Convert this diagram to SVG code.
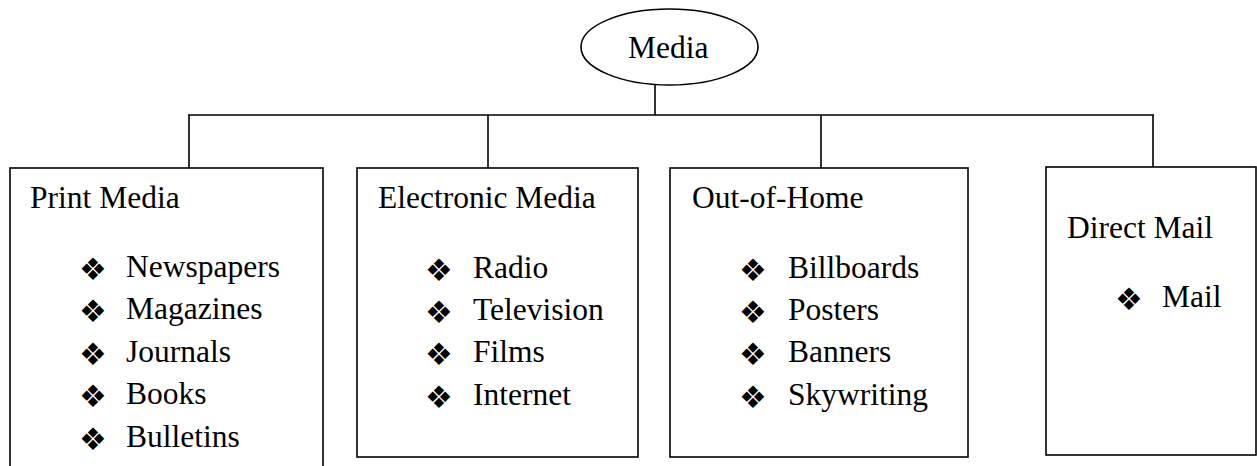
<svg xmlns="http://www.w3.org/2000/svg" width="1257" height="466" viewBox="0 0 1257 466">
<style>
.ln{stroke:#000;stroke-width:1.6;fill:none}
.box{stroke:#000;stroke-width:1.6;fill:#fff}
.t{font-family:"Liberation Serif","Times New Roman",serif;font-size:31.5px;fill:#000}
.b{font-family:"DejaVu Sans",sans-serif;font-size:31px;fill:#000}
</style>
<rect width="1257" height="466" fill="#fff"/>
<g id="connectors">
<line class="ln" x1="655" y1="85" x2="655" y2="115"/>
<line class="ln" x1="188" y1="115" x2="1154" y2="115"/>
<line class="ln" x1="189" y1="115" x2="189" y2="168"/>
<line class="ln" x1="488" y1="115" x2="488" y2="168"/>
<line class="ln" x1="821" y1="115" x2="821" y2="168"/>
<line class="ln" x1="1153" y1="115" x2="1153" y2="167"/>
</g>
<g id="media">
<ellipse class="box" cx="669.5" cy="47" rx="88.5" ry="38"/>
<text class="t" x="628" y="58">Media</text>
</g>
<g id="print">
<rect class="box" x="10" y="168" width="313" height="310"/>
<text class="t" x="30" y="208">Print Media</text>
<text class="b" x="79" y="280">❖</text><text class="t" x="126" y="277">Newspapers</text>
<text class="b" x="79" y="322">❖</text><text class="t" x="126" y="319">Magazines</text>
<text class="b" x="79" y="365">❖</text><text class="t" x="126" y="362">Journals</text>
<text class="b" x="79" y="407">❖</text><text class="t" x="126" y="404">Books</text>
<text class="b" x="79" y="450">❖</text><text class="t" x="126" y="447">Bulletins</text>
</g>
<g id="electronic">
<rect class="box" x="357" y="168" width="281" height="289"/>
<text class="t" x="378" y="208">Electronic Media</text>
<text class="b" x="425" y="281">❖</text><text class="t" x="473" y="278">Radio</text>
<text class="b" x="425" y="323">❖</text><text class="t" x="473" y="320">Television</text>
<text class="b" x="425" y="365">❖</text><text class="t" x="473" y="362">Films</text>
<text class="b" x="425" y="408">❖</text><text class="t" x="473" y="405">Internet</text>
</g>
<g id="outofhome">
<rect class="box" x="670" y="168" width="298" height="289"/>
<text class="t" x="692" y="208">Out-of-Home</text>
<text class="b" x="739" y="281">❖</text><text class="t" x="788" y="278">Billboards</text>
<text class="b" x="739" y="323">❖</text><text class="t" x="788" y="320">Posters</text>
<text class="b" x="739" y="365">❖</text><text class="t" x="788" y="362">Banners</text>
<text class="b" x="739" y="408">❖</text><text class="t" x="788" y="405">Skywriting</text>
</g>
<g id="directmail">
<rect class="box" x="1046" y="167" width="210" height="288"/>
<text class="t" x="1067" y="238">Direct Mail</text>
<text class="b" x="1115" y="310">❖</text><text class="t" x="1162" y="307">Mail</text>
</g>
</svg>
